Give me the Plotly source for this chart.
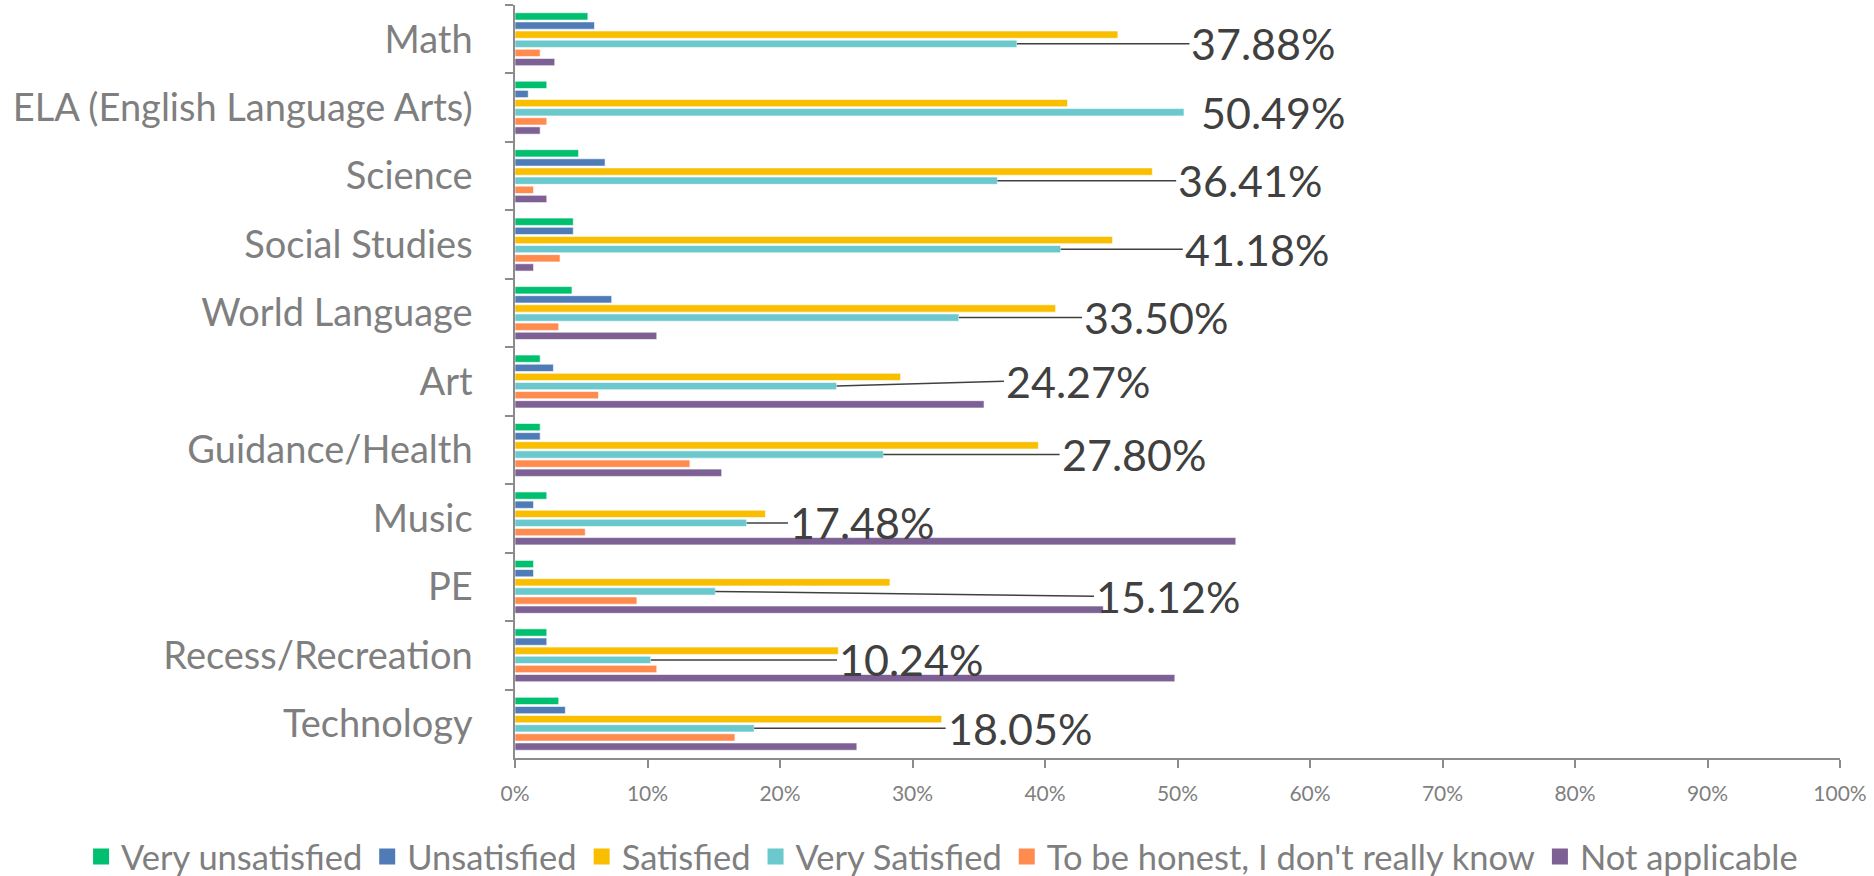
import plotly.graph_objects as go

categories = ["Math", "ELA (English Language Arts)", "Science", "Social Studies",
              "World Language", "Art", "Guidance/Health", "Music", "PE",
              "Recess/Recreation", "Technology"]

very_unsatisfied = [5.5, 2.4, 4.8, 4.4, 4.3, 1.9, 1.9, 2.4, 1.4, 2.4, 3.3]
unsatisfied = [6.0, 1.0, 6.8, 4.4, 7.3, 2.9, 1.9, 1.4, 1.4, 2.4, 3.8]
satisfied = [45.5, 41.7, 48.1, 45.1, 40.8, 29.1, 39.5, 18.9, 28.3, 24.4, 32.2]
very_satisfied = [37.88, 50.49, 36.41, 41.18, 33.50, 24.27, 27.80, 17.48, 15.12, 10.24, 18.05]
dont_know = [1.9, 2.4, 1.4, 3.4, 3.3, 6.3, 13.2, 5.3, 9.2, 10.7, 16.6]
not_applicable = [3.0, 1.9, 2.4, 1.4, 10.7, 35.4, 15.6, 54.4, 44.4, 49.8, 25.8]

series_names = ["Very unsatisfied", "Unsatisfied", "Satisfied", "Very Satisfied",
                "To be honest, I don't really know", "Not applicable"]
series_values = [very_unsatisfied, unsatisfied, satisfied, very_satisfied,
                 dont_know, not_applicable]
series_colors = ["#00BF6F", "#4F7CB6", "#F9BE00", "#6BC8CC", "#FF8B4F", "#7D6094"]

# label placement (layout only): left edge of each data label, in axis % units
label_x = [50.9, 51.6, 49.9, 50.4, 42.8, 36.9, 41.1, 20.6, 43.7, 24.3, 32.5]
label_dy = [0, 0, 0, 0, 0, -0.07, 0, 0, 0.07, 0, 0]

BARGAP = 0.2
fig = go.Figure()
for name, vals, col in zip(series_names, series_values, series_colors):
    fig.add_trace(go.Bar(
        y=categories, x=vals, name=name, orientation="h",
        marker=dict(color=col, line=dict(color="white", width=0.6)),
        hoverinfo="x+name", showlegend=False,
    ))
# legend entries (square swatches)
for name, col in zip(series_names, series_colors):
    fig.add_trace(go.Scatter(
        x=[None], y=[None], mode="markers", name=name,
        marker=dict(symbol="square", size=16, color=col), showlegend=True,
    ))

# offset of the "Very Satisfied" bar (4th of 6) within its group
n = len(series_names)
cyan_off = (1 - BARGAP) * ((3 + 0.5) / n - 0.5)

LABEL_FONT = dict(family="Lato", size=43, color="#404040")
annotations = []
for i, v in enumerate(very_satisfied):
    yb = i + cyan_off
    show_line = (label_x[i] - v) > 2.5
    if show_line:
        annotations.append(dict(
            x=v, y=yb, xref="x", yref="y",
            ax=label_x[i], ay=yb + label_dy[i], axref="x", ayref="y",
            text=f"{v:.2f}%", showarrow=True, arrowhead=0, arrowwidth=1.5,
            arrowcolor="#404040", xanchor="left", yanchor="middle", font=LABEL_FONT,
        ))
    else:
        annotations.append(dict(
            x=label_x[i], y=yb + label_dy[i], xref="x", yref="y",
            text=f"{v:.2f}%", showarrow=False, xanchor="left", yanchor="middle",
            font=LABEL_FONT,
        ))

fig.update_layout(
    width=1874, height=876,
    margin=dict(l=515, r=34, t=5, b=118, autoexpand=False),
    paper_bgcolor="white", plot_bgcolor="white",
    barmode="group", bargap=BARGAP, bargroupgap=0.2,
    font=dict(family="Lato", color="#7F7F7F"),
    annotations=annotations,
    showlegend=True,
    legend=dict(orientation="h", xref="paper", yref="paper",
                x=-0.3275, xanchor="left", y=-0.131, yanchor="middle",
                font=dict(family="Lato", size=34.5, color="#7F7F7F"),
                traceorder="normal", itemsizing="trace"),
)
fig.update_xaxes(range=[0, 100], dtick=10, ticksuffix="%", showgrid=False,
                 zeroline=False, showline=True, linecolor="#8C8C8C", linewidth=1.5,
                 ticks="outside", ticklen=8, tickcolor="#8C8C8C", tickwidth=1.5,
                 ticklabelstandoff=8, automargin=False,
                 tickfont=dict(family="Lato", size=21, color="#7F7F7F"))
fig.update_yaxes(range=[10.5, -0.5], showgrid=False, zeroline=False,
                 showline=True, linecolor="#8C8C8C", linewidth=1.5,
                 ticks="outside", tickson="boundaries", ticklen=8,
                 tickcolor="#8C8C8C", tickwidth=1.5, ticklabelstandoff=33,
                 automargin=False,
                 tickfont=dict(family="Lato", size=38, color="#7F7F7F"))

fig.write_html(
    "out.html",
    config={"displayModeBar": False},
    post_script="document.body.style.margin='0';document.body.style.overflow='hidden';",
)
